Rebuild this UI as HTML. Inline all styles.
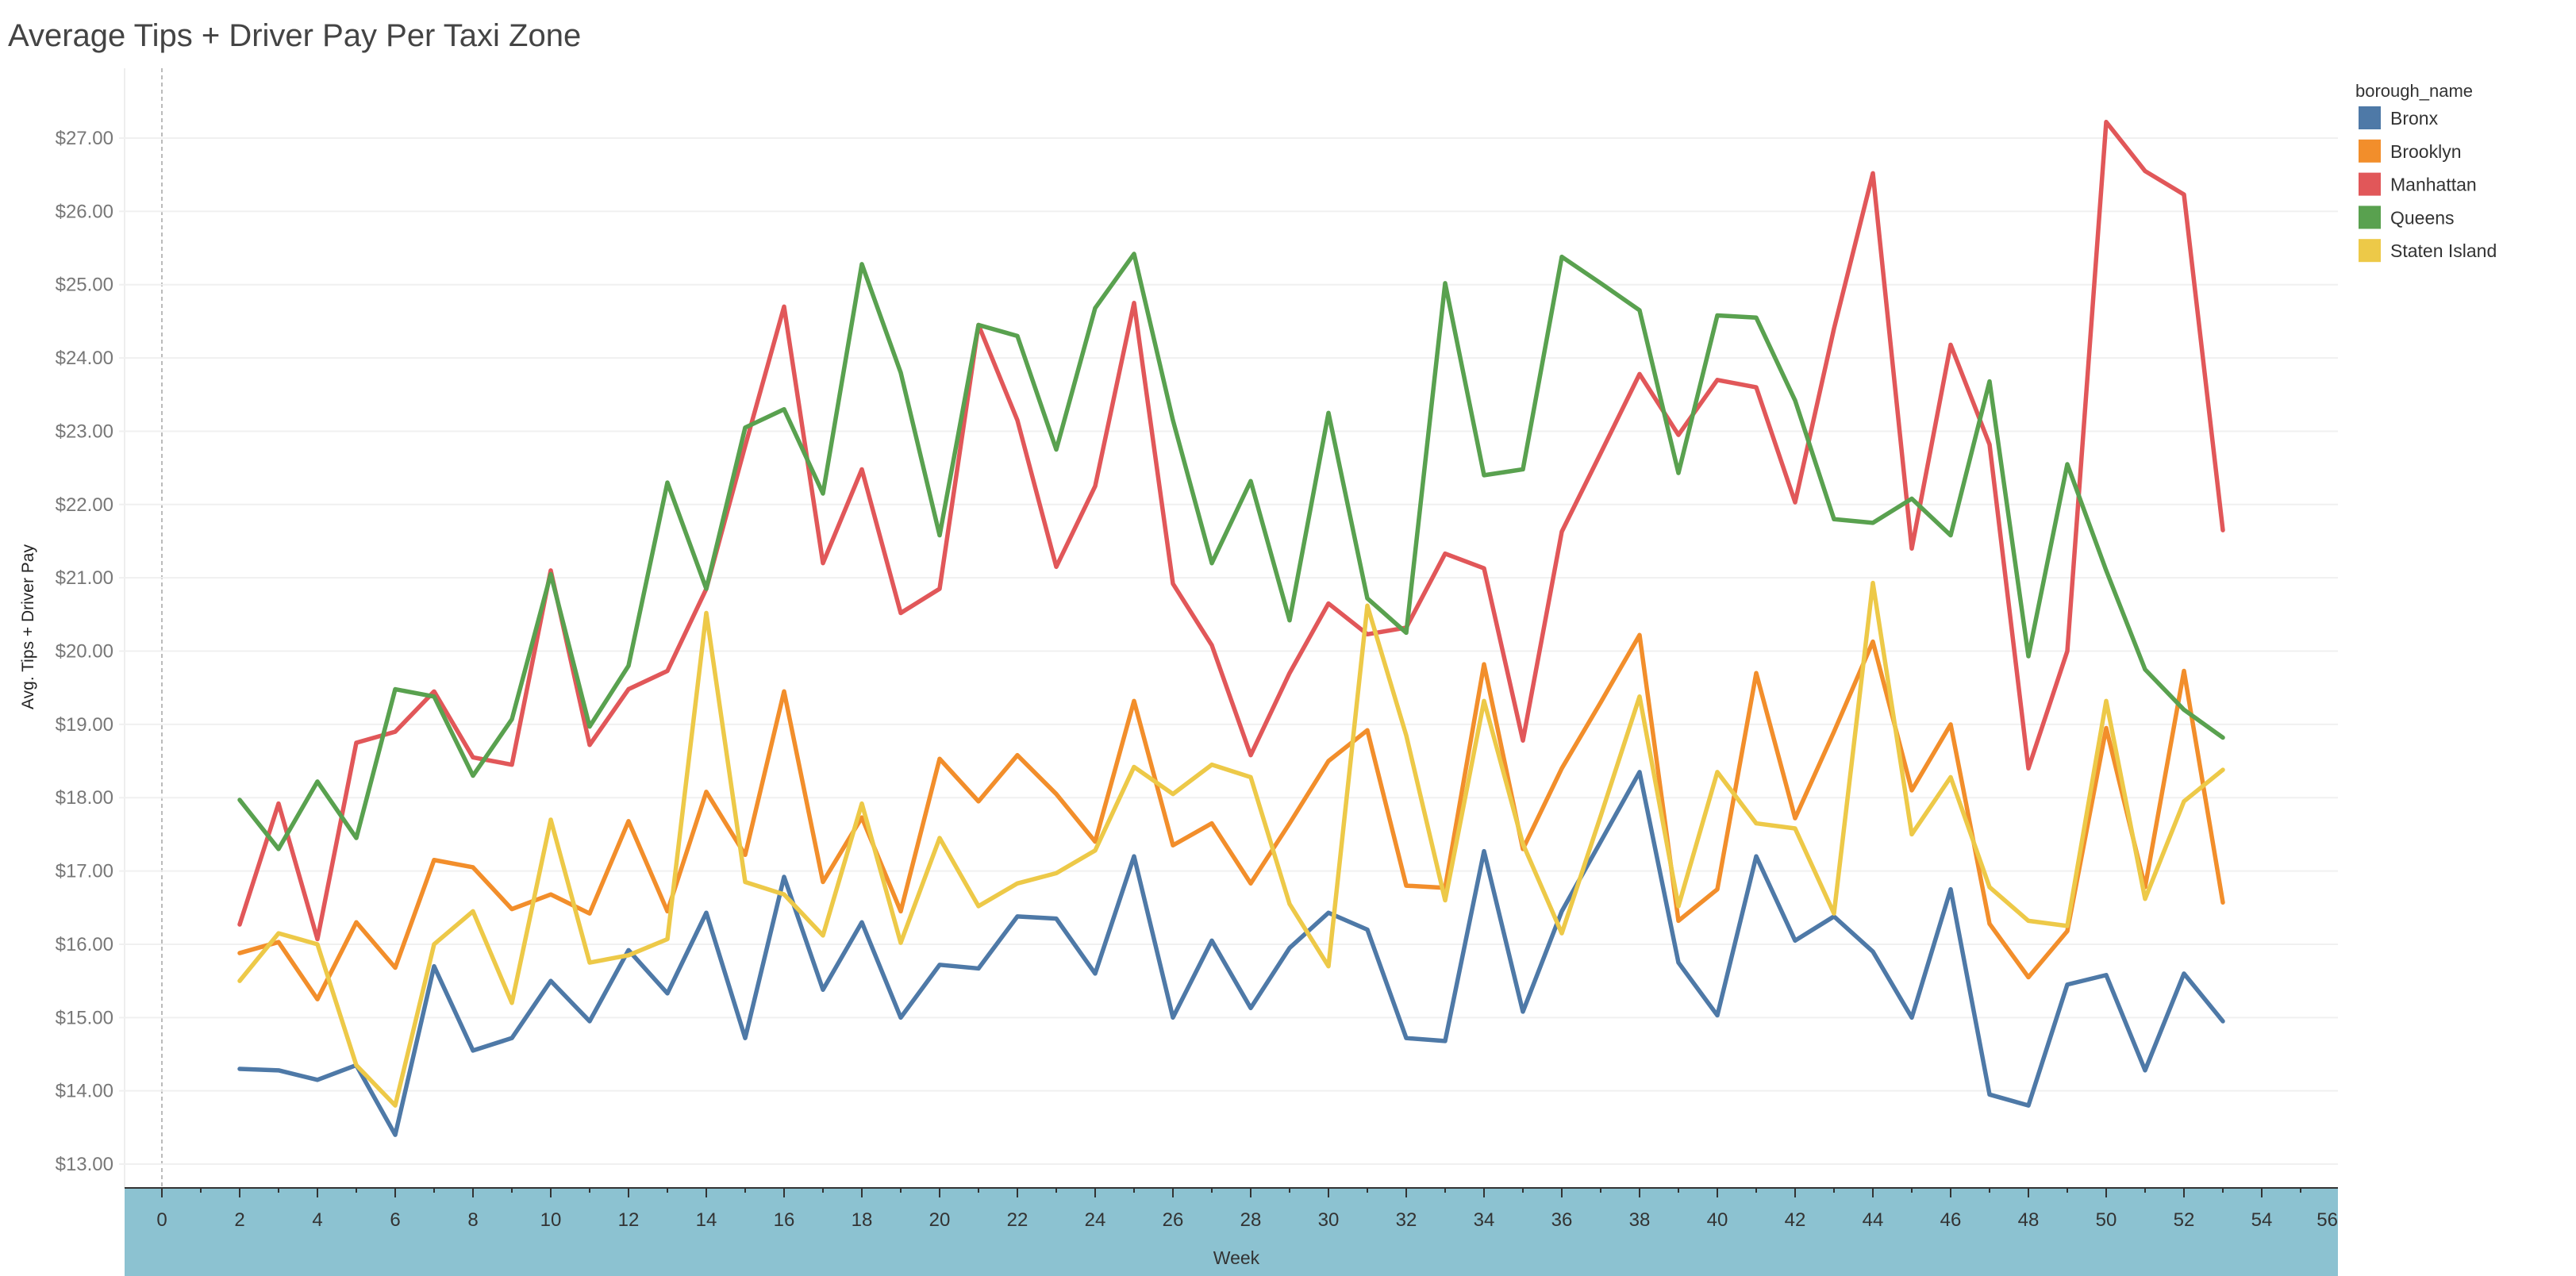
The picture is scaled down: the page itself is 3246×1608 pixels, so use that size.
<!DOCTYPE html>
<html><head><meta charset="utf-8"><style>
html,body{margin:0;padding:0;background:#fff;}
svg{display:block;font-family:"Liberation Sans",sans-serif;}
</style></head><body>
<svg id="chart" width="3246" height="1608" viewBox="0 0 3246 1608">
<text x="10" y="58" font-size="40" fill="#444">Average Tips + Driver Pay Per Taxi Zone</text>
<g id="grid"></g>
<rect x="157" y="1497" width="2789" height="111" fill="#8cc2d1"/>
<g id="xaxis"></g>
<g id="yaxis"></g>
<g id="lines"></g>
<text transform="translate(42,790) rotate(-90)" text-anchor="middle" font-size="21" fill="#222">Avg. Tips + Driver Pay</text>
<text x="1558" y="1593" text-anchor="middle" font-size="23" fill="#333">Week</text>
<g id="legend"></g>
</svg>
<script>
const weeks = [2,3,4,5,6,7,8,9,10,11,12,13,14,15,16,17,18,19,20,21,22,23,24,25,26,27,28,29,30,31,32,33,34,35,36,37,38,39,40,41,42,43,44,45,46,47,48,49,50,51,52,53];
const bronx = [14.3,14.28,14.15,14.35,13.4,15.7,14.55,14.72,15.5,14.95,15.92,15.33,16.43,14.72,16.92,15.38,16.3,15.0,15.72,15.67,16.38,16.35,15.6,17.2,15.0,16.05,15.13,15.95,16.43,16.2,14.72,14.68,17.27,15.08,16.45,17.4,18.35,15.75,15.03,17.2,16.05,16.38,15.9,15.0,16.75,13.95,13.8,15.45,15.58,14.28,15.6,14.95];
const brooklyn = [15.88,16.03,15.25,16.3,15.68,17.15,17.05,16.48,16.68,16.42,17.68,16.45,18.08,17.22,19.45,16.85,17.73,16.45,18.53,17.95,18.58,18.05,17.4,19.32,17.35,17.65,16.83,17.65,18.5,18.92,16.8,16.77,19.82,17.3,18.4,19.3,20.22,16.32,16.75,19.7,17.72,18.9,20.13,18.1,19.0,16.28,15.55,16.18,18.95,16.78,19.73,16.57];
const manhattan = [16.27,17.92,16.07,18.75,18.9,19.45,18.55,18.45,21.1,18.72,19.48,19.73,20.85,22.8,24.7,21.2,22.48,20.52,20.85,24.45,23.15,21.15,22.25,24.75,20.92,20.08,18.58,19.7,20.65,20.23,20.32,21.33,21.13,18.78,21.63,22.7,23.78,22.95,23.7,23.6,22.03,24.4,26.52,21.4,24.18,22.82,18.4,20.0,27.22,26.55,26.23,21.65];
const queens = [17.97,17.3,18.22,17.45,19.48,19.38,18.3,19.07,21.05,18.97,19.8,22.3,20.85,23.05,23.3,22.15,25.28,23.8,21.58,24.45,24.3,22.75,24.68,25.42,23.15,21.2,22.32,20.42,23.25,20.72,20.25,25.02,22.4,22.48,25.38,25.02,24.65,22.43,24.58,24.55,23.42,21.8,21.75,22.08,21.58,23.68,19.93,22.55,21.1,19.75,19.2,18.82];
const statenIsland = [15.5,16.15,16.0,14.35,13.8,16.0,16.45,15.2,17.7,15.75,15.85,16.07,20.52,16.85,16.68,16.12,17.92,16.02,17.45,16.52,16.83,16.97,17.28,18.42,18.05,18.45,18.28,16.55,15.7,20.62,18.85,16.6,19.32,17.37,16.15,17.75,19.38,16.52,18.35,17.65,17.58,16.42,20.93,17.5,18.28,16.78,16.32,16.25,19.32,16.62,17.95,18.38];
const seriesNames = ["Bronx","Brooklyn","Manhattan","Queens","Staten Island"];
const yTicks = [13,14,15,16,17,18,19,20,21,22,23,24,25,26,27];
const xTicks = [0,2,4,6,8,10,12,14,16,18,20,22,24,26,28,30,32,34,36,38,40,42,44,46,48,50,52,54,56];

const NS="http://www.w3.org/2000/svg";
const colors=["#4e79a7","#f28e2b","#e15759","#59a14f","#edc948"];
const allSeries=[bronx,brooklyn,manhattan,queens,statenIsland];
const RIGHT=2946;
function xs(w){return 204+49*w;}
function ys(v){return 174+(27-v)*92.36;}
function mk(tag,attrs,parent){const e=document.createElementNS(NS,tag);for(const k in attrs)e.setAttribute(k,attrs[k]);parent.appendChild(e);return e;}
const grid=document.getElementById('grid'),yaxis=document.getElementById('yaxis'),xaxis=document.getElementById('xaxis'),lines=document.getElementById('lines'),legend=document.getElementById('legend');
mk('line',{x1:157,y1:86,x2:157,y2:1497,stroke:'#eee','stroke-width':2},grid);
mk('line',{x1:xs(0),y1:86,x2:xs(0),y2:1497,stroke:'#bbb','stroke-width':2,'stroke-dasharray':'5,4'},grid);
yTicks.forEach(v=>{
  const l=mk('line',{x1:150,y1:ys(v),x2:RIGHT,y2:ys(v),stroke:'#f0f0f0','stroke-width':2},grid);
  
  
  const t=mk('text',{x:143,y:ys(v)+8,'text-anchor':'end','font-size':24,fill:'#777'},yaxis);
  t.textContent='$'+v.toFixed(2);
  
  
});
mk('line',{x1:157,y1:1497,x2:RIGHT,y2:1497,stroke:'#333','stroke-width':2},xaxis);
for(let w=0;w<=56;w++){if(xs(w)<=RIGHT)mk('line',{x1:xs(w),y1:1497,x2:xs(w),y2:w%2?1503:1509,stroke:'#333','stroke-width':2},xaxis);}
xTicks.forEach(w=>{
  const over=xs(w)+14>RIGHT;
  const t=mk('text',{x:over?RIGHT:xs(w),y:1545,'text-anchor':over?'end':'middle','font-size':24,fill:'#333'},xaxis);
  t.textContent=String(w);
  
  
});
allSeries.forEach((s,i)=>{
  const p=mk('polyline',{points:s.map((v,j)=>xs(weeks[j])+','+ys(v)).join(' '),fill:'none',stroke:colors[i],'stroke-width':5.5,'stroke-linejoin':'round','stroke-linecap':'round'},lines);
  
  
});
const lt=mk('text',{x:2968,y:122,'font-size':22,fill:'#333'},legend);
lt.textContent='borough_name';


seriesNames.forEach((n,i)=>{
  const g=mk('g',{},legend);
  
  
  const y=134+i*41.8;
  mk('rect',{x:2972,y:y,width:28,height:29,fill:colors[i]},g);
  const t=mk('text',{x:3012,y:y+23,'font-size':23,fill:'#333'},g);
  t.textContent=n;
});
</script>
</body></html>
